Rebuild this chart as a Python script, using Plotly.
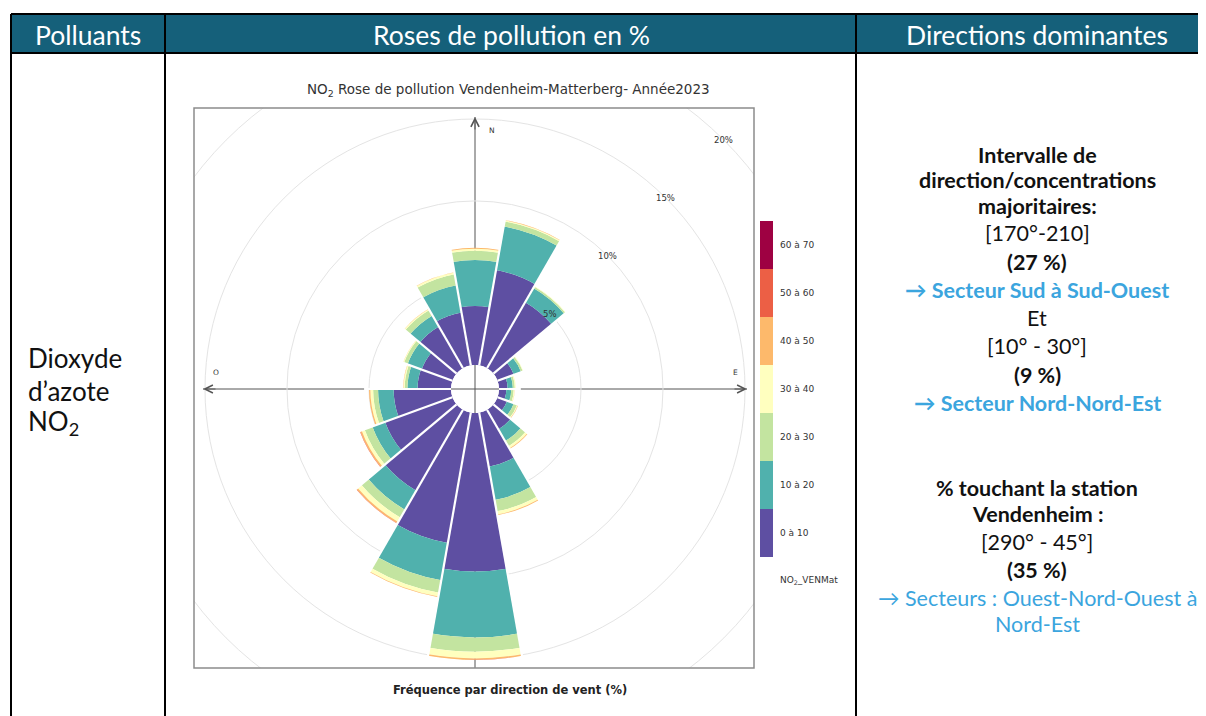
import math
import plotly.graph_objects as go

# wind direction sectors (deg, clockwise from north)
directions = list(range(0, 360, 20))

# concentration classes (µg/m3) and colours
classes = ["0 à 10", "10 à 20", "20 à 30", "30 à 40", "40 à 50", "50 à 60", "60 à 70"]
class_colors = ["#5e4fa2", "#50b1ad", "#c3e4a0", "#ffffbf", "#fdb96b", "#ec5f45", "#9e0142"]

# frequency (%) per direction for each class
c_0_10 = [3.6, 5.9, 4.65, 1.06, 0.53, 0.45, 0.63, 1.38, 3.35, 9.67, 8.07, 5.7, 4.38, 3.5, 2.04, 2.0, 2.93, 3.28]
c_10_20 = [2.8, 2.7, 1.0, 0.47, 0.32, 0.3, 0.43, 0.83, 2.06, 4.01, 2.31, 1.35, 0.82, 0.95, 0.62, 0.92, 0.79, 1.68]
c_20_30 = [0.57, 0.31, 0.1, 0.12, 0.12, 0.15, 0.22, 0.37, 0.7, 0.87, 0.77, 0.55, 0.51, 0.3, 0.17, 0.23, 0.38, 0.68]
c_30_40 = [0.12, 0.07, 0.03, 0.03, 0.06, 0.05, 0.05, 0.14, 0.19, 0.41, 0.23, 0.3, 0.19, 0.17, 0.07, 0.05, 0.07, 0.11]
c_40_50 = [0.06, 0.02, 0.0, 0.0, 0.0, 0.01, 0.03, 0.04, 0.05, 0.09, 0.05, 0.1, 0.1, 0.08, 0.02, 0.01, 0.02, 0.02]
c_50_60 = [0.0, 0.0, 0.0, 0.0, 0.0, 0.0, 0.0, 0.0, 0.0, 0.01, 0.0, 0.02, 0.02, 0.0, 0.0, 0.0, 0.0, 0.0]
c_60_70 = [0.0] * 18
series = [c_0_10, c_10_20, c_20_30, c_30_40, c_40_50, c_50_60, c_60_70]

ring_ticks = [5, 10, 15, 20]

title_text = "NO<sub>2</sub> Rose de pollution Vendenheim-Matterberg- Année2023"
xlabel_text = "<b>Fréquence par direction de vent (%)</b>"
station_label = "NO<sub>2</sub>_VENMat"

headers = ["Polluants", "Roses de pollution en %", "Directions dominantes"]
pollutant_lines = ["Dioxyde", "d’azote", "NO<sub>2</sub>"]
BLACK, BLUE = "#111111", "#3ba5de"
right_lines = [
    ("<b>Intervalle de</b>", BLACK),
    ("<b>direction/concentrations</b>", BLACK),
    ("<b>majoritaires:</b>", BLACK),
    ("[170°-210]", BLACK),
    ("<b>(27 %)</b>", BLACK),
    ("<b>→ Secteur Sud à Sud-Ouest</b>", BLUE),
    ("Et", BLACK),
    ("[10° - 30°]", BLACK),
    ("<b>(9 %)</b>", BLACK),
    ("<b>→ Secteur Nord-Nord-Est</b>", BLUE),
    ("<b>% touchant la station</b>", BLACK),
    ("<b>Vendenheim :</b>", BLACK),
    ("[290° - 45°]", BLACK),
    ("<b>(35 %)</b>", BLACK),
    ("→ Secteurs : Ouest-Nord-Ouest à", BLUE),
    ("Nord-Est", BLUE),
]
right_y = [155, 180, 206, 233, 262, 290, 318, 346, 375, 403, 488, 514, 542, 570, 598, 624]

# ---- page geometry (pixels of the window) ----
W, H = 1206, 716
OFF = 8                    # default page body margin
FW, FH = W - OFF, H - OFF  # figure size
CX, CY = 475, 389          # rose centre
HOLE = 24                  # empty centre radius
PX_PER = 16.4              # pixels per %
RMAX = 18
R_OUT = HOLE + PX_PER * RMAX
FRAME = (194, 108, 754, 668)


def px(x):
    return (x - OFF) / FW


def py(y):
    return 1 - (y - OFF) / FH


def rose_xy(p, deg):
    r = HOLE + PX_PER * p
    a = math.radians(deg)
    return CX + r * math.sin(a), CY - r * math.cos(a)


fig = go.Figure()

for name, vals, col in zip(classes, series, class_colors):
    fig.add_trace(go.Barpolar(
        r=vals, theta=directions, width=20, name=name,
        marker=dict(color=col, line=dict(width=0)),
        showlegend=False,
    ))

# white separators between sectors
totals = [sum(v) for v in zip(*series)]
gap_r, gap_t = [], []
for i, d in enumerate(directions):
    rr = max(totals[i], totals[(i + 1) % len(totals)]) + 0.3
    gap_r += [0, rr, None]
    gap_t += [d + 10, d + 10, None]
fig.add_trace(go.Scatterpolar(r=gap_r, theta=gap_t, mode="lines",
                              line=dict(color="white", width=2.2),
                              showlegend=False, hoverinfo="skip"))

shapes = []
# outer 20% ring (beyond polar range), drawn below
r20 = HOLE + PX_PER * 20
shapes.append(dict(type="circle", xref="paper", yref="paper", layer="below",
                   x0=px(CX - r20), x1=px(CX + r20), y0=py(CY + r20), y1=py(CY - r20),
                   line=dict(color="#e4e4e4", width=1)))
# cross axes
shapes.append(dict(type="line", xref="paper", yref="paper", layer="below",
                   x0=px(203), x1=px(747), y0=py(CY), y1=py(CY),
                   line=dict(color="#555555", width=1)))
shapes.append(dict(type="line", xref="paper", yref="paper", layer="below",
                   x0=px(CX), x1=px(CX), y0=py(117), y1=py(FRAME[3]),
                   line=dict(color="#555555", width=1)))
# white covers outside the chart frame
fx0, fy0, fx1, fy1 = FRAME
for (a, b, c, d) in [(0, 0, fx0, H), (fx1, 0, W, H), (fx0, 0, fx1, fy0), (fx0, fy1, fx1, H)]:
    shapes.append(dict(type="rect", xref="paper", yref="paper", layer="above",
                       x0=px(a), x1=px(c), y0=py(d), y1=py(b),
                       fillcolor="white", line=dict(width=0)))
shapes.append(dict(type="rect", xref="paper", yref="paper", layer="above",
                   x0=px(fx0), x1=px(fx1), y0=py(fy1), y1=py(fy0),
                   line=dict(color="#8c8c8c", width=1.5)))
# colour legend
LEG_X0, LEG_X1, LEG_TOP, LEG_STEP = 760, 773, 221, 48
annotations = []
for k, (name, col) in enumerate(zip(classes, class_colors)):
    top = LEG_TOP + (len(classes) - 1 - k) * LEG_STEP
    shapes.append(dict(type="rect", xref="paper", yref="paper", layer="above",
                       x0=px(LEG_X0), x1=px(LEG_X1), y0=py(top + LEG_STEP), y1=py(top),
                       fillcolor=col, line=dict(width=0)))
    annotations.append(dict(x=px(778), y=py(top + LEG_STEP / 2), text=name,
                            xanchor="left", yanchor="middle", showarrow=False,
                            font=dict(family="DejaVu Sans", size=9, color="#333333")))
annotations.append(dict(x=px(778), y=py(580), text=station_label, xanchor="left",
                        yanchor="middle", showarrow=False,
                        font=dict(family="DejaVu Sans", size=9, color="#333333")))

# table
shapes.append(dict(type="rect", xref="paper", yref="paper", layer="above",
                   x0=px(11), x1=px(W), y0=py(53), y1=py(14),
                   fillcolor="#15607a", line=dict(width=0)))
for (a, b, c, d) in [(11, 14, W, 14), (11, 53, W, 53), (11, 14, 11, H),
                     (165, 14, 165, H), (856, 14, 856, H)]:
    shapes.append(dict(type="line", xref="paper", yref="paper", layer="above",
                       x0=px(a), x1=px(c), y0=py(b), y1=py(d),
                       line=dict(color="black", width=2)))

for txt, x in zip(headers, [88, 511, 1037]):
    annotations.append(dict(x=px(x), y=py(35), text=txt, showarrow=False,
                            xanchor="center", yanchor="middle",
                            font=dict(family="Lato", size=26.5, color="white")))
for i, txt in enumerate(pollutant_lines):
    annotations.append(dict(x=px(26), y=py(358 + 32.5 * i), text=txt, showarrow=False,
                            xanchor="left", yanchor="middle",
                            font=dict(family="Lato", size=26, color="#111111")))
for (txt, col), y in zip(right_lines, right_y):
    annotations.append(dict(x=px(1037), y=py(y), text=txt, showarrow=False,
                            xanchor="center", yanchor="middle",
                            font=dict(family="Lato", size=21.5, color=col)))

# chart texts
annotations.append(dict(x=px(508), y=py(90), text=title_text, showarrow=False,
                        xanchor="center", yanchor="middle",
                        font=dict(family="DejaVu Sans", size=13.5, color="#333333")))
annotations.append(dict(x=px(510), y=py(690), text=xlabel_text, showarrow=False,
                        xanchor="center", yanchor="middle",
                        font=dict(family="DejaVu Sans", size=11.5, color="#222222")))
for v in ring_ticks:
    x, y = rose_xy(v, 45)
    annotations.append(dict(x=px(x), y=py(y), text=f"{v}%", showarrow=False,
                            xanchor="center", yanchor="middle",
                            font=dict(family="DejaVu Sans", size=8.5, color="#333333")))
for lab, x, y in [("N", 492, 131), ("E", 735, 372), ("O", 216, 372)]:
    annotations.append(dict(x=px(x), y=py(y), text=lab, showarrow=False,
                            xanchor="center", yanchor="middle",
                            font=dict(family="DejaVu Sans", size=7.5, color="#333333")))
# arrow heads
for hx, hy, ax, ay in [(203, CY, 14, 0), (747, CY, -14, 0), (CX, 117, 0, 14)]:
    annotations.append(dict(x=px(hx), y=py(hy), text="", showarrow=True,
                            ax=ax, ay=ay, arrowhead=5, arrowsize=1.6, arrowwidth=1,
                            arrowcolor="#555555", xref="paper", yref="paper"))

fig.update_layout(
    width=FW, height=FH,
    margin=dict(l=0, r=0, t=0, b=0),
    paper_bgcolor="white",
    polar=dict(
        domain=dict(x=[px(CX - R_OUT), px(CX + R_OUT)], y=[py(CY + R_OUT), py(CY - R_OUT)]),
        hole=HOLE / R_OUT,
        bgcolor="rgba(0,0,0,0)",
        barmode="stack",
        radialaxis=dict(range=[0, RMAX], tickvals=ring_ticks[:3], showticklabels=False,
                        ticks="", showline=False, gridcolor="#e4e4e4", gridwidth=1),
        angularaxis=dict(direction="clockwise", rotation=90, showgrid=False,
                         showticklabels=False, ticks="", showline=False),
    ),
    shapes=shapes,
    annotations=annotations,
    showlegend=False,
)

fig.write_html("out.html")
